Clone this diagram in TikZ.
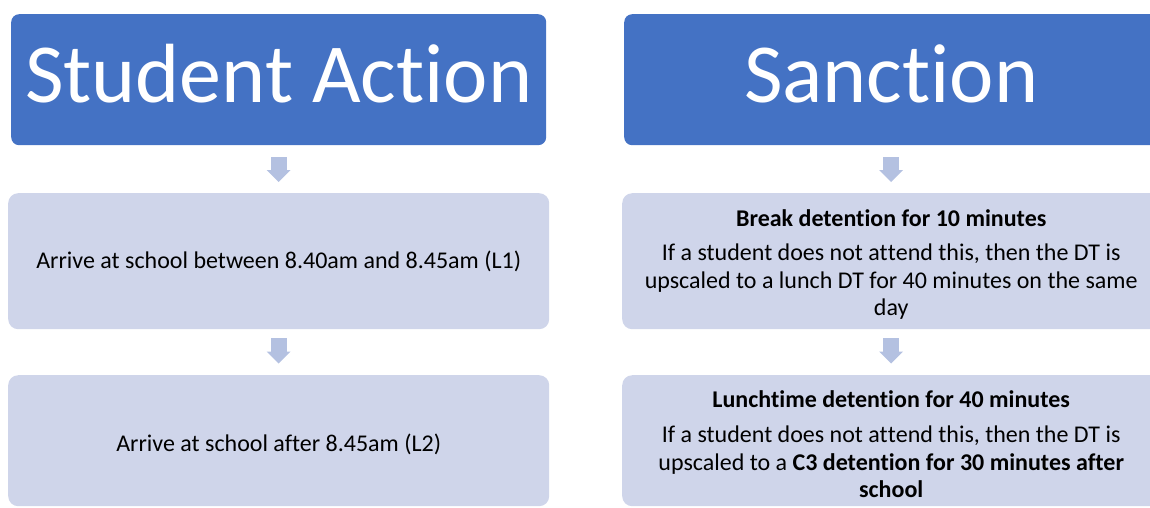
\documentclass[tikz,border=0pt]{standalone}
\usepackage{fontspec}
\setmainfont{Carlito}[Ligatures={NoCommon,NoContextual,NoRare}, Contextuals=NoAlternate]
\usetikzlibrary{arrows.meta}
\definecolor{hdrblue}{HTML}{4472C4}
\definecolor{boxfill}{HTML}{CFD5EA}
\definecolor{arrowc}{HTML}{B4C1E1}
\newcommand\nlg{\kern0pt{}}
\begin{document}
\begin{tikzpicture}[x=1pt,y=-1pt,
  hdr/.style={fill=hdrblue, rounded corners=8pt, text=white, inner sep=0pt, anchor=north west,
    font=\fontsize{84}{100}\selectfont, text height=45pt, text depth=0pt},
  lbox/.style={fill=boxfill, rounded corners=10pt, inner sep=0pt, anchor=north west,
    font=\fontsize{24}{27.5}\selectfont, align=center, text=black},
  barrow/.style={draw=arrowc, line width=16pt,
    -{Triangle[width=24pt 0 1, length=12pt 0 1, line width=0pt]}}]
\clip (0,0) rectangle (1150,507);
% headers
\node[hdr, minimum width=535pt, minimum height=131pt] (h1) at (11,14) {Student Act\nlg ion};
\node[hdr, minimum width=534pt, minimum height=131pt] (h2) at (624,14) {Sanct\nlg ion};
% left column
\node[lbox, minimum width=541pt, minimum height=136pt] (b1) at (8,193)
  {Arrive at school between 8.40am and 8.45am (L1)};
\node[lbox, minimum width=541pt, minimum height=131pt] (b2) at (8,375)
  {\rule{0pt}{24pt}Arrive at school after 8.45am (L2)};
% right column
\node[lbox, minimum width=538pt, minimum height=136pt] (s1) at (622,193)
  {\rule{0pt}{23pt}{\bfseries Break detention for 10 minutes}\\[7pt]
   If a student does not at\nlg t\nlg end this, then the DT is\\
   upscaled to a lunch DT for 40 minutes on the same\\
   day};
\node[lbox, minimum width=538pt, minimum height=131pt] (s2) at (622,375)
  {\rule{0pt}{24pt}{\bfseries Luncht\nlg ime detention for 40 minutes}\\[8pt]
   If a student does not at\nlg t\nlg end this, then the DT is\\
   upscaled to a \textbf{C3 detention for 30 minutes after}\\
   \textbf{school}};
% arrows
\draw[barrow, shorten <=12pt, shorten >=11pt] (h1.south) -- (b1.north);
\draw[barrow, shorten <=9pt, shorten >=11.5pt] (b1.south) -- (b2.north);
\draw[barrow, shorten <=12pt, shorten >=11pt] (h2.south) -- (s1.north);
\draw[barrow, shorten <=9pt, shorten >=11.5pt] (s1.south) -- (s2.north);
\end{tikzpicture}
\end{document}
